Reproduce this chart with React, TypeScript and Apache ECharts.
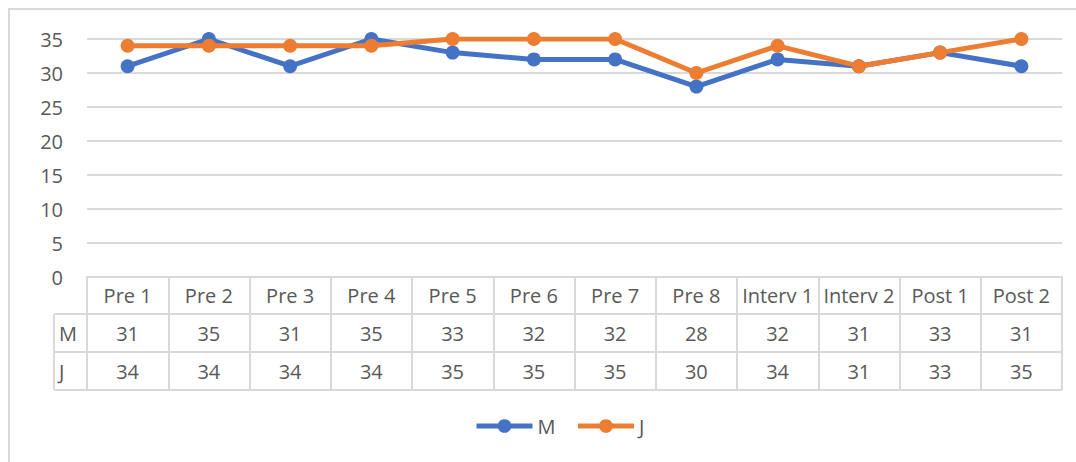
import React, { useEffect, useRef } from "react";
import * as echarts from "echarts";

const categories = ["Pre 1", "Pre 2", "Pre 3", "Pre 4", "Pre 5", "Pre 6", "Pre 7", "Pre 8", "Interv 1", "Interv 2", "Post 1", "Post 2"];
const seriesNames = ["M", "J"];
const valuesM = [31, 35, 31, 35, 33, 32, 32, 28, 32, 31, 33, 31];
const valuesJ = [34, 34, 34, 34, 35, 35, 35, 30, 34, 31, 33, 35];
const colors = ["#4472C4", "#ED7D31"];

const FONT = "'Open Sans', 'Noto Sans', sans-serif";
const TEXT = "#595959";
const LINE = "#d9d9d9";

export default function App() {
  const ref = useRef<HTMLDivElement>(null);
  useEffect(() => {
    if (!ref.current) return;
    const chart = echarts.init(ref.current, null, { renderer: "svg" });
    const gridLeft = 87;
    const gridRight = 14;
    const gridTop = 39;
    const gridBottom = 185;
    const axisY = 462 - gridBottom; // 277
    const rowH = [37, 38, 38];

    const label = (margin: number) => ({
      show: true,
      margin,
      fontSize: 20,
      lineHeight: 20,
      color: TEXT,
      fontFamily: FONT,
      interval: 0,
    });

    const option: any = {
      animation: false,
      textStyle: { fontFamily: FONT },
      color: colors,
      graphic: [
        {
          type: "rect",
          shape: { x: 9, y: 9, width: 1200, height: 600 },
          style: { fill: "none", stroke: LINE, lineWidth: 2 },
          silent: true,
        },
        {
          type: "line",
          shape: { x1: 54, y1: axisY + rowH[0], x2: gridLeft, y2: axisY + rowH[0] },
          style: { stroke: LINE, lineWidth: 2 },
        },
        {
          type: "line",
          shape: { x1: 54, y1: axisY + rowH[0] + rowH[1], x2: gridLeft, y2: axisY + rowH[0] + rowH[1] },
          style: { stroke: LINE, lineWidth: 2 },
        },
        {
          type: "line",
          shape: { x1: 54, y1: axisY + rowH[0] + rowH[1] + rowH[2], x2: gridLeft, y2: axisY + rowH[0] + rowH[1] + rowH[2] },
          style: { stroke: LINE, lineWidth: 2 },
        },
        {
          type: "line",
          shape: { x1: 54, y1: axisY + rowH[0], x2: 54, y2: axisY + rowH[0] + rowH[1] + rowH[2] },
          style: { stroke: LINE, lineWidth: 2 },
        },
        {
          type: "text",
          x: 59,
          y: axisY + rowH[0] + rowH[1] / 2,
          style: { text: seriesNames[0], fontSize: 20, fontFamily: FONT, fill: TEXT, verticalAlign: "middle", align: "left" },
        },
        {
          type: "text",
          x: 59,
          y: axisY + rowH[0] + rowH[1] + rowH[2] / 2,
          style: { text: seriesNames[1], fontSize: 20, fontFamily: FONT, fill: TEXT, verticalAlign: "middle", align: "left" },
        },
      ],
      legend: {
        data: seriesNames,
        left: 469,
        top: 411,
        itemWidth: 56,
        itemHeight: 17,
        itemGap: 20,
        lineStyle: { width: 5 },
        textStyle: { fontSize: 20, color: TEXT, fontFamily: FONT, lineHeight: 20 },
      },
      grid: { left: gridLeft, right: gridRight, top: gridTop, bottom: gridBottom, containLabel: false },
      xAxis: [
        {
          type: "category",
          data: categories,
          position: "bottom",
          boundaryGap: true,
          axisLine: { show: true, lineStyle: { color: LINE, width: 2 } },
          axisTick: { show: true, length: rowH[0] + rowH[1] + rowH[2], lineStyle: { color: LINE, width: 2 }, interval: 0 },
          axisLabel: label(8),
          splitLine: { show: false },
        },
        {
          type: "category",
          data: valuesM.map(String),
          position: "bottom",
          offset: rowH[0],
          axisLine: { show: true, lineStyle: { color: LINE, width: 2 } },
          axisTick: { show: false },
          axisLabel: label(9),
        },
        {
          type: "category",
          data: valuesJ.map(String),
          position: "bottom",
          offset: rowH[0] + rowH[1],
          axisLine: { show: true, lineStyle: { color: LINE, width: 2 } },
          axisTick: { show: false },
          axisLabel: label(9),
        },
        {
          type: "category",
          data: categories,
          position: "bottom",
          offset: rowH[0] + rowH[1] + rowH[2],
          axisLine: { show: true, lineStyle: { color: LINE, width: 2 } },
          axisTick: { show: false },
          axisLabel: { show: false },
        },
      ],
      yAxis: {
        type: "value",
        min: 0,
        max: 35,
        interval: 5,
        axisLine: { show: false },
        axisTick: { show: false },
        axisLabel: { margin: 24, fontSize: 20, color: TEXT, fontFamily: FONT },
        splitLine: { lineStyle: { color: LINE, width: 2 } },
      },
      series: [
        {
          name: seriesNames[0],
          type: "line",
          data: valuesM,
          symbol: "circle",
          symbolSize: 14,
          lineStyle: { width: 5, color: colors[0] },
          itemStyle: { color: colors[0] },
          z: 2,
        },
        {
          name: seriesNames[1],
          type: "line",
          data: valuesJ,
          symbol: "circle",
          symbolSize: 14,
          lineStyle: { width: 5, color: colors[1] },
          itemStyle: { color: colors[1] },
          z: 3,
        },
      ],
    };
    chart.setOption(option);
    return () => chart.dispose();
  }, []);
  return <div ref={ref} style={{ width: 1076, height: 462, position: "absolute", left: 0, top: 0 }} />;
}
